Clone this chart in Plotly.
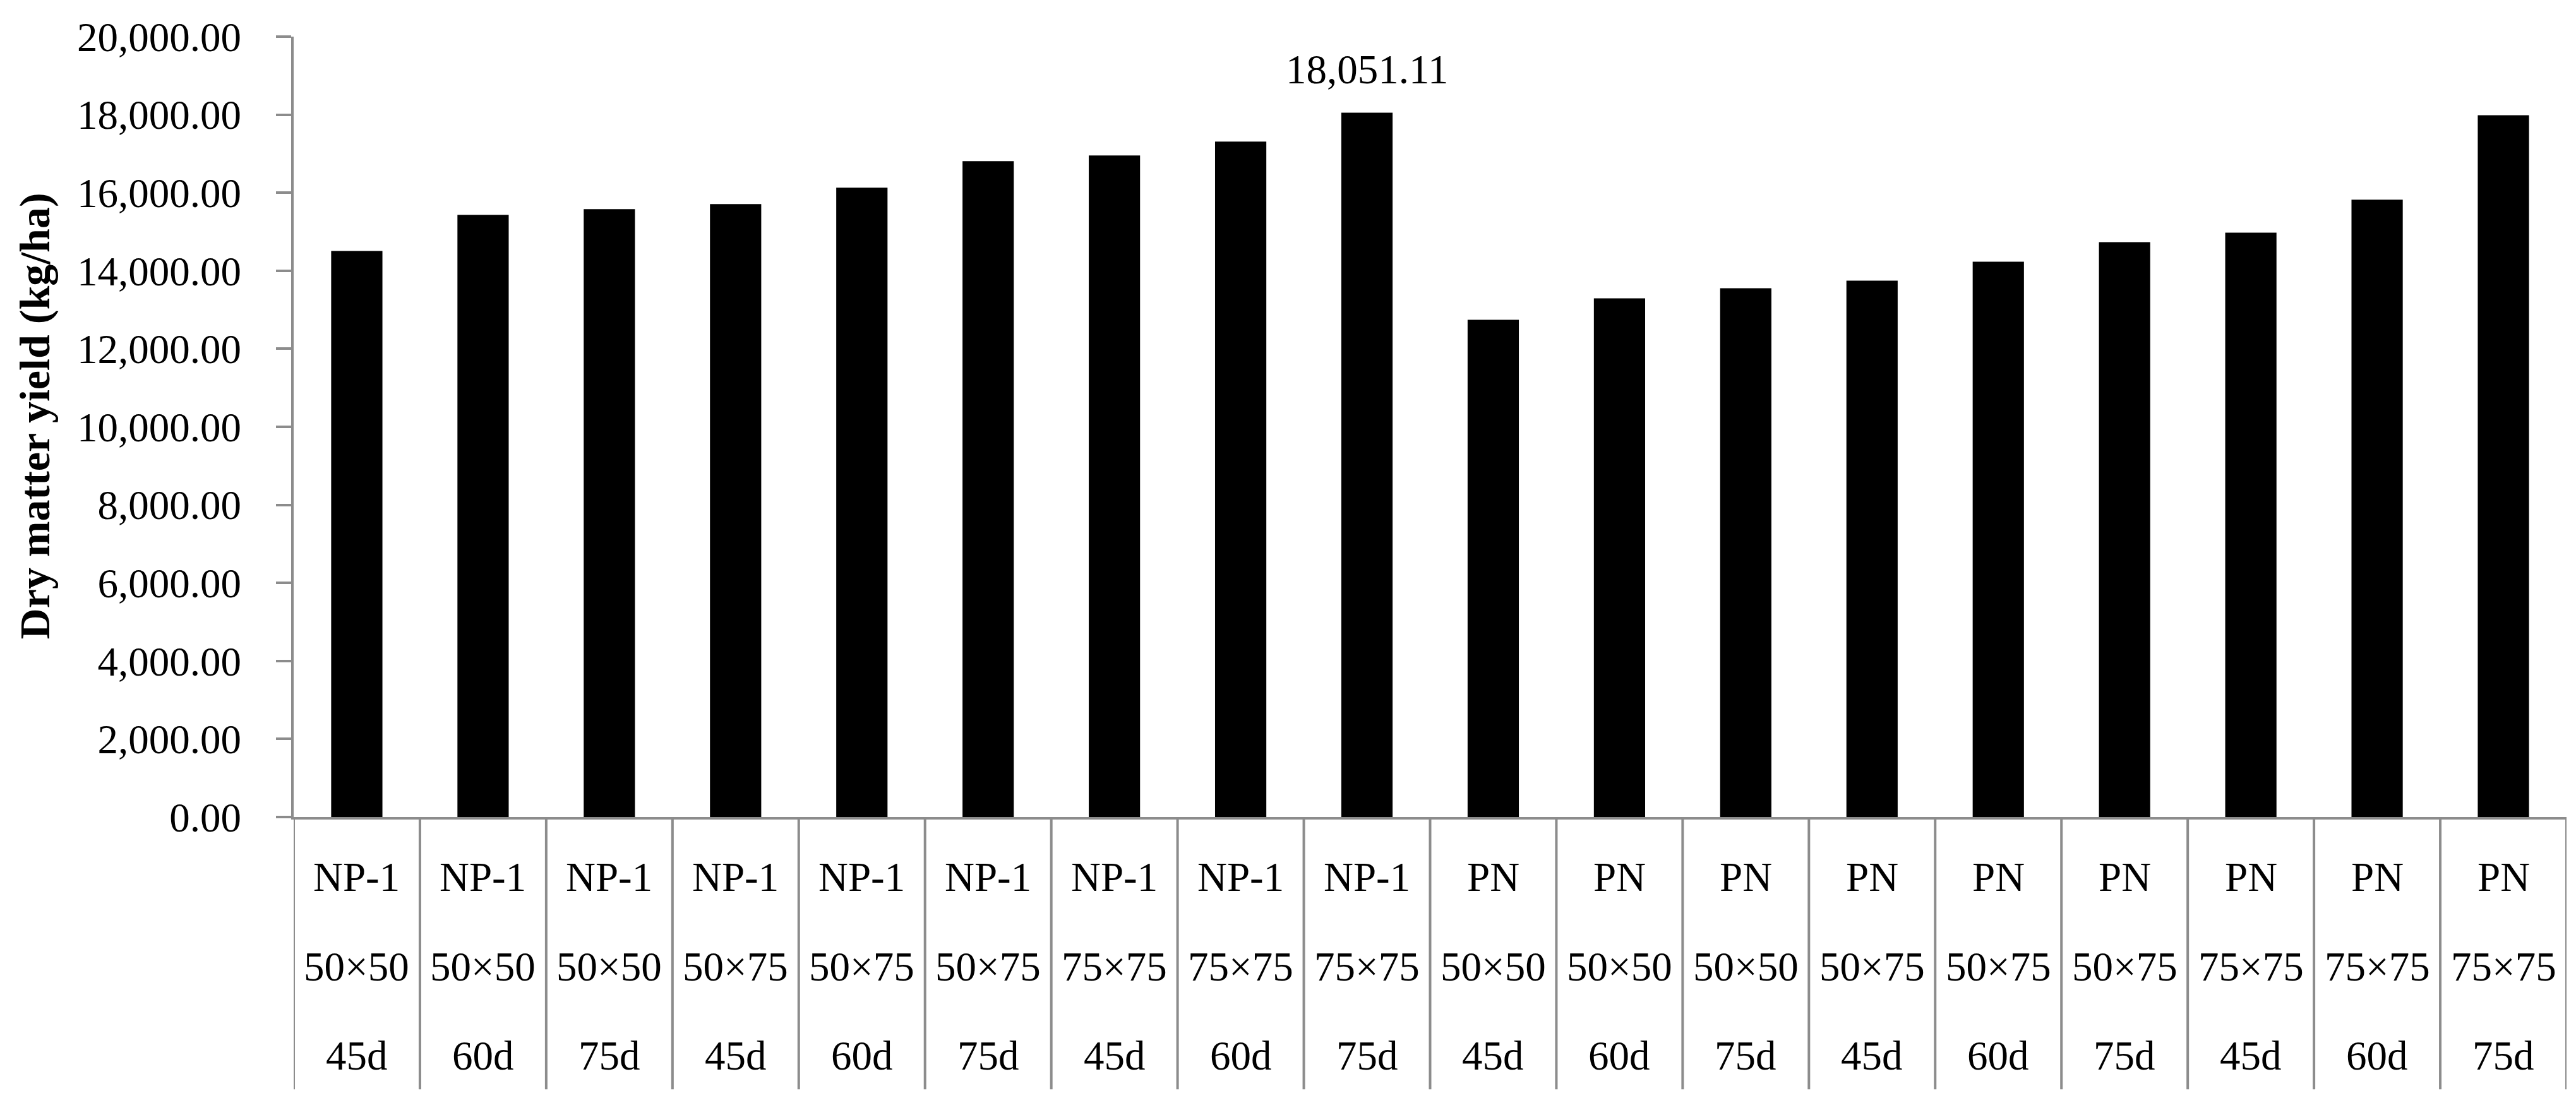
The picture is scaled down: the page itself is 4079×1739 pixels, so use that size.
import plotly.graph_objects as go

# treatment labels (cultivar / spacing / harvest stage)
CULTIVAR = ["NP-1", "NP-1", "NP-1", "NP-1", "NP-1", "NP-1", "NP-1", "NP-1", "NP-1",
            "PN", "PN", "PN", "PN", "PN", "PN", "PN", "PN", "PN"]
SPACING = ["50×50", "50×50", "50×50", "50×75", "50×75", "50×75", "75×75", "75×75", "75×75",
           "50×50", "50×50", "50×50", "50×75", "50×75", "50×75", "75×75", "75×75", "75×75"]
HARVEST = ["45d", "60d", "75d", "45d", "60d", "75d", "45d", "60d", "75d",
           "45d", "60d", "75d", "45d", "60d", "75d", "45d", "60d", "75d"]

# dry matter yield, kg/ha
DRY_MATTER = [14507, 15434, 15580, 15709, 16129, 16809, 16954, 17310, 18051.11,
              12744, 13294, 13553, 13747, 14232, 14733, 14976, 15822, 17984]

FONT = "Liberation Serif"
GREY = "#8c8c8c"

labels = [c + " " + s + " " + h for c, s, h in zip(CULTIVAR, SPACING, HARVEST)]

fig = go.Figure(go.Bar(
    x=labels,
    y=DRY_MATTER,
    marker=dict(color="black", line=dict(width=0)),
))

# table-like category area below the axis
shapes = []
for i in range(len(labels) + 1):
    shapes.append(dict(type="line", xref="x", yref="paper",
                       x0=i - 0.5, x1=i - 0.5, y0=0, y1=-0.349,
                       line=dict(color=GREY, width=4)))

annotations = []
row_y = [-0.077, -0.192, -0.306]
for i, lab in enumerate(labels):
    for txt, yy in zip([CULTIVAR[i], SPACING[i], HARVEST[i]], row_y):
        annotations.append(dict(x=lab, y=yy, xref="x", yref="paper", text=txt,
                                showarrow=False, xanchor="center", yanchor="middle",
                                font=dict(family=FONT, size=65, color="black")))

# value label on the highest bar
top = max(range(len(DRY_MATTER)), key=lambda k: DRY_MATTER[k])
annotations.append(dict(x=labels[top], y=DRY_MATTER[top], xref="x", yref="y",
                        text=f"{DRY_MATTER[top]:,.2f}", showarrow=False,
                        yanchor="middle", yshift=68,
                        font=dict(family=FONT, size=65, color="black")))

annotations.append(dict(x=-0.114, y=0.514, xref="paper", yref="paper",
                        text="<b>Dry matter yield (kg/ha)</b>", textangle=-90,
                        showarrow=False, xanchor="center", yanchor="middle",
                        font=dict(family=FONT, size=68, color="black")))

fig.update_layout(
    width=4079, height=1739,
    margin=dict(l=457, r=23, t=50, b=453),
    plot_bgcolor="white", paper_bgcolor="white",
    bargap=0.594,
    showlegend=False,
    shapes=shapes,
    annotations=annotations,
    font=dict(family=FONT, size=65, color="black"),
    xaxis=dict(range=[-0.5, len(labels) - 0.5], showticklabels=False, ticks="",
               showline=True, linecolor=GREY, linewidth=4, showgrid=False,
               zeroline=False, automargin=False),
    yaxis=dict(range=[0, 20000], dtick=2000, tickformat=",.2f",
               showline=True, linecolor=GREY, linewidth=4, showgrid=False,
               zeroline=False, ticks="outside", ticklen=24, tickwidth=4,
               tickcolor=GREY, ticklabelstandoff=42,
               tickfont=dict(family=FONT, size=65, color="black"),
               automargin=False),
)

fig.write_html("out.html")
